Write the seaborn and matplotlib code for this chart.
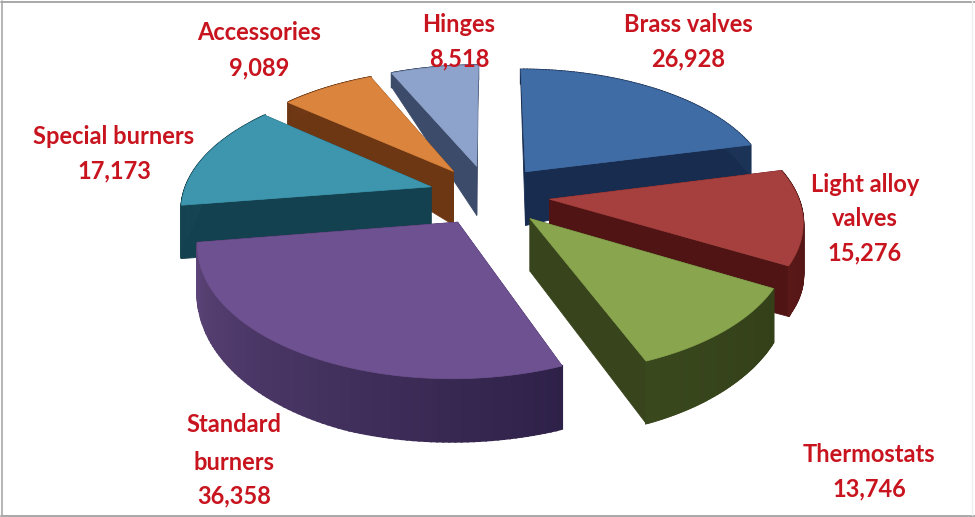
import numpy as np
import matplotlib
matplotlib.use("Agg")
import matplotlib.pyplot as plt
import seaborn as sns

# Sales by product line
categories = ["Brass valves", "Light alloy\nvalves", "Thermostats", "Standard\nburners",
              "Special burners", "Accessories", "Hinges"]
values = [26928, 15276, 13746, 36358, 17173, 9089, 8518]
value_labels = ["26,928", "15,276", "13,746", "36,358", "17,173", "9,089", "8,518"]

top_colors = ["#3F6CA5", "#A5403E", "#89A54E", "#6E5190", "#3D96AE", "#DB843D", "#8EA3CB"]
wall_colors = ["#182C50", "#501414", "#37441C", "#2E2148", "#14414F", "#6E3714", "#3C4B69"]
rim_start = ["#182C50", "#4A1212", "#334018", "#2E2148", "#14414F", "#6E3714", "#3C4B69"]
rim_end = ["#1C3358", "#5A1818", "#3A481E", "#5C4478", "#164856", "#7A3E18", "#46577A"]

# Text anchors for each label block: centre x, and one centre y per line
label_x = [688, 865, 869, 234, 114, 259, 459]
label_y = [[25, 59], [185, 219, 253], [455, 489], [424, 463, 496], [137, 171], [32, 68], [24, 59]]

# Painter's order, from the back of the pie to the front
draw_order = [6, 5, 4, 0, 1, 3, 2]

# Perspective view of the tilted pie
CX, CY = 489, 195
SCALE_X, SCALE_Y, PERSPECTIVE = 248, 124, 0.15
EXPLODE = 0.245


def project(x, y):
    s = 1 / (1 + PERSPECTIVE * y)
    return CX + SCALE_X * x * s, CY - SCALE_Y * y * s


def wall_drop(y):
    # Apparent thickness of the disc, shrinking toward the far edge
    return np.interp(y, [-1.15, -0.5, 0.0, 0.19, 0.43, 0.84, 1.0, 1.2],
                     [63, 50, 54, 54, 30, 22, 14, 14])


def blend(c0, c1, t):
    c0, c1 = np.array(matplotlib.colors.to_rgb(c0)), np.array(matplotlib.colors.to_rgb(c1))
    return tuple(c0 + (c1 - c0) * t)


sns.set_theme(style="white")
plt.rcParams["font.family"] = ["Lato", "DejaVu Sans"]

fig = plt.figure(figsize=(9.75, 5.17), dpi=100)
ax = fig.add_axes([0, 0, 1, 1])
ax.set_xlim(0, 975)
ax.set_ylim(517, 0)
ax.axis("off")

fractions = np.array(values) / np.sum(values)
ends = np.cumsum(fractions) * 2 * np.pi
starts = ends - fractions * 2 * np.pi

for i in draw_order:
    t0, t1 = starts[i], ends[i]
    mid = (t0 + t1) / 2
    ax_, ay_ = EXPLODE * np.sin(mid), EXPLODE * np.cos(mid)
    theta = np.linspace(t0, t1, 90)
    wx, wy = ax_ + np.sin(theta), ay_ + np.cos(theta)
    sx, sy = project(wx, wy)
    drop = wall_drop(wy)
    px, py = project(ax_, ay_)
    pdrop = float(wall_drop(ay_))
    layer = 2 + draw_order.index(i)

    # Radial walls
    for k in (0, -1):
        ax.fill([px, sx[k], sx[k], px], [py, sy[k], sy[k] + drop[k], py + pdrop],
                color=wall_colors[i], lw=0.6, zorder=layer)
    # Outer rim, shaded strip by strip
    for k in range(len(theta) - 1):
        f = k / (len(theta) - 2)
        ax.fill([sx[k], sx[k + 1], sx[k + 1], sx[k]],
                [sy[k], sy[k + 1], sy[k + 1] + drop[k + 1], sy[k] + drop[k]],
                color=blend(rim_start[i], rim_end[i], f), lw=1.4, zorder=layer)
    # Top face
    ax.fill(np.r_[px, sx], np.r_[py, sy], color=top_colors[i], lw=0.5, zorder=layer)

# Labels
for i, x in enumerate(label_x):
    lines = categories[i].split("\n") + [value_labels[i]]
    for line, y in zip(lines, label_y[i]):
        ax.text(x, y, line, color="#C8141E", fontsize=17, fontweight="bold",
                ha="center", va="center", zorder=20)

# Thin frame round the chart area
ax.plot([2, 2], [1, 515], color="#A8A8A8", lw=1.2, zorder=21)
ax.plot([1, 975], [1.5, 1.5], color="#A8A8A8", lw=1.4, zorder=21)
ax.plot([1, 975], [515.5, 515.5], color="#A8A8A8", lw=1.4, zorder=21)
ax.plot([972, 972], [1, 515], color="#EDEDED", lw=1, zorder=21)

fig.savefig("out.png", dpi=100)
